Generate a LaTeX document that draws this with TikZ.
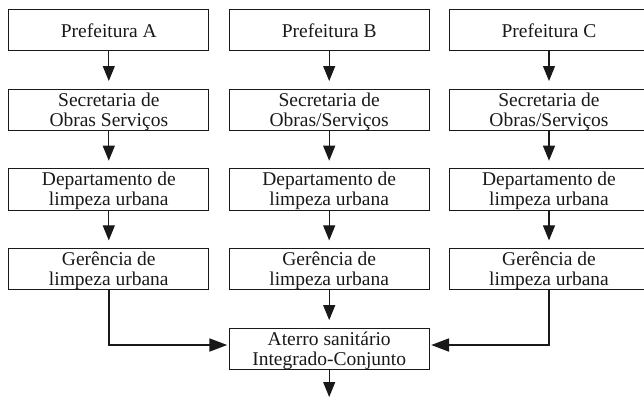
\documentclass[tikz,border=0pt]{standalone}
\usepackage{fontspec}
\setmainfont{Liberation Serif}
\usetikzlibrary{arrows.meta}
\newcommand{\duasl}[2]{\begin{tabular}[t]{@{}c@{}}#1\\#2\end{tabular}}
\begin{document}
\begin{tikzpicture}[x=1pt,y=-1pt,
  box/.style={draw=black!90, line width=0.9pt, minimum width=200pt, minimum height=41.5pt,
    inner sep=0pt, text height=17.3pt, text depth=24.2pt,
    font=\fontsize{19.5}{20}\selectfont, text=black!90},
  onebox/.style={box, text height=28pt, text depth=13.5pt},
  conn/.style={draw=black!90, line width=1.1pt, -{Triangle[length=15pt,width=12pt]}, shorten >=7.5pt},
  elbow/.style={draw=black!90, line width=2pt, -{Triangle[length=18pt,width=13pt]}, shorten >=1.5pt},
]
\useasboundingbox (0,0) rectangle (644,397);
% column A
\node[onebox] (pA) at (108.8,30) {Prefeitura A};
\node[box] (sA) at (108.8,109.7) {\duasl{Secretaria de}{Obras Serviços}};
\node[box] (dA) at (108.8,189.4) {\duasl{Departamento de}{limpeza urbana}};
\node[box] (gA) at (108.8,269.1) {\duasl{Gerência de}{limpeza urbana}};
% column B
\node[onebox] (pB) at (329.2,30) {Prefeitura B};
\node[box] (sB) at (329.2,109.7) {\duasl{Secretaria de}{Obras/Serviços}};
\node[box] (dB) at (329.2,189.4) {\duasl{Departamento de}{limpeza urbana}};
\node[box] (gB) at (329.2,269.1) {\duasl{Gerência de}{limpeza urbana}};
% column C
\node[onebox] (pC) at (549,30) {Prefeitura C};
\node[box] (sC) at (549,109.7) {\duasl{Secretaria de}{Obras/Serviços}};
\node[box] (dC) at (549,189.4) {\duasl{Departamento de}{limpeza urbana}};
\node[box] (gC) at (549,269.1) {\duasl{Gerência de}{limpeza urbana}};
% landfill
\node[box] (at) at (329.2,348.8) {\duasl{Aterro sanitário}{Integrado-Conjunto}};
\coordinate (fim) at (329.2,397);
% connectors
\foreach \c in {A,B,C}{
  \draw[conn] (p\c) -- (s\c);
  \draw[conn] (s\c) -- (d\c);
  \draw[conn] (d\c) -- (g\c);
}
\draw[conn] (gB) -- (at);
\draw[conn, shorten >=0pt] (at) -- (fim);
\draw[elbow] (gA.south) |- ([yshift=3.8pt]at.west);
\draw[elbow] (gC.south) |- ([yshift=3.8pt]at.east);
\end{tikzpicture}
\end{document}
